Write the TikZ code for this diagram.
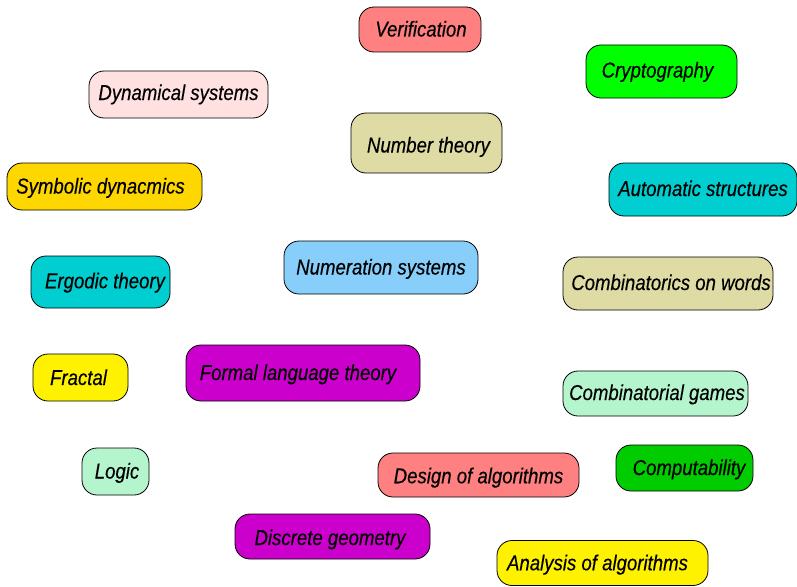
\documentclass[tikz,border=0pt]{standalone}
\usepackage{fontspec}
\setmainfont{Liberation Sans}[FakeStretch=0.865,FakeBold=0.3]
\usepackage{tikz}

\definecolor{salmon}{HTML}{FF8080}
\definecolor{rosy}{HTML}{FFE1E1}
\definecolor{khakix}{HTML}{DEDBA4}
\definecolor{gold}{HTML}{FFD700}
\definecolor{turq}{HTML}{00CED1}
\definecolor{skyb}{HTML}{87CEFA}
\definecolor{mint}{HTML}{B4F5CE}
\definecolor{magent}{HTML}{CC00CC}
\definecolor{lime}{HTML}{00FF00}
\definecolor{dgreen}{HTML}{00CC00}

\begin{document}
\begin{tikzpicture}[x=1pt,y=-1pt,line cap=round,line join=round,
    topic/.style={draw=black, line width=0.8pt, rounded corners=15pt,
        inner sep=0pt, text height=14pt, text depth=0pt,
        font=\fontsize{21.5}{24}\selectfont\itshape},
    box/.style args={#1/#2}{topic, minimum width=#1pt, minimum height=#2pt},
    % nudge the label sideways inside its box
    tx/.style={execute at begin node={\hspace*{#1pt}}}]
        \useasboundingbox (0,0) rectangle (797,586);

        % top row
        \node[box=122/45, fill=salmon, tx=2] (verif) at (420,29.5) {Verification};
        \node[box=179/47, fill=rosy, text height=11pt] (dyn) at (178.5,94.5) {Dynamical systems};
        \node[box=151/53, fill=lime, tx=-8, text height=12pt] (crypto) at (661.5,71.5) {Cryptography};
        \node[box=151/60, fill=khakix, tx=4, text height=19pt] (numth) at (426.5,143) {Number theory};

        \node[box=195/47, fill=gold, tx=-8] (symb) at (104.5,186.5) {Symbolic dynacmics};
        \node[box=188/53, fill=turq, text height=13pt] (auto) at (703,189.5) {Automatic structures};

        % middle
        \node[box=139/52, fill=turq, tx=9, text height=12.5pt] (ergo) at (100.5,282) {Ergodic theory};
        \node[box=194/53, fill=skyb] (numsys) at (381,267.5) {Numeration systems};
        \node[box=210/53, fill=khakix, tx=6, text height=13pt] (cow) at (668,283.5) {Combinatorics on words};

        \node[box=95/47, fill=yellow, tx=-4, text height=15pt] (fract) at (80.5,377.5) {Fractal};
        \node[box=234/56, fill=magent, tx=-10] (flt) at (303,373) {Formal language theory};
        \node[box=185/45, fill=mint, tx=3, text height=13pt] (games) at (655.5,393.5) {Combinatorial games};

        % bottom rows
        \node[box=67/47, fill=mint, tx=3] (logic) at (115.5,471.5) {Logic};
        \node[box=201/44, fill=salmon, text height=16.5pt] (design) at (478.5,475) {Design of algorithms};
        \node[box=137/46, fill=dgreen, tx=9] (comput) at (684.5,468) {Computability};
        \node[box=195/45, fill=magent, tx=-5, text height=17pt] (dgeom) at (332.5,536.5) {Discrete geometry};
        \node[box=211/45, fill=yellow, tx=-10, text height=14.5pt] (anal) at (602.5,563) {Analysis of algorithms};
    \end{tikzpicture}
\end{document}
